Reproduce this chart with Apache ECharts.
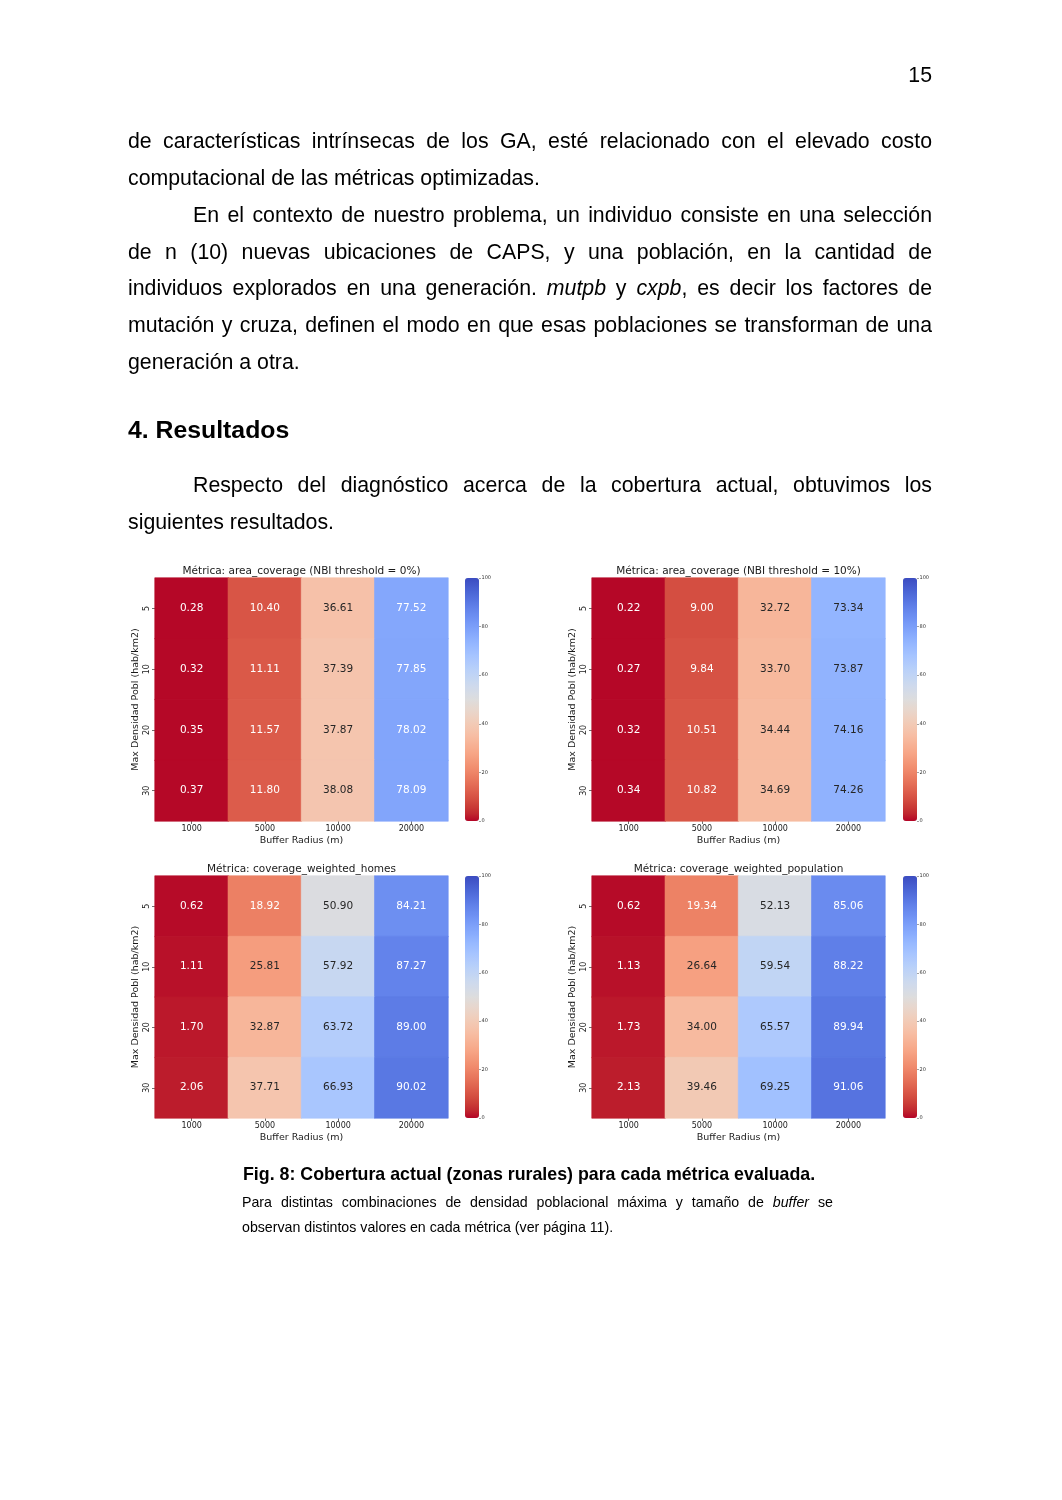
<!DOCTYPE html>
<html>
<head>
<meta charset="utf-8">
<title>Cobertura actual</title>
<script src="https://cdn.jsdelivr.net/npm/echarts@6/dist/echarts.min.js"></script>
<style>
  html, body { margin: 0; padding: 0; background: #fff; }
  #page { position: relative; width: 1062px; height: 1500px; overflow: hidden;
          font-family: 'Liberation Sans', Arial, sans-serif; color: #000; }
  #chart { position: absolute; left: 0; top: 0; width: 1062px; height: 1500px; }
  .ln { position: absolute; font-size: 21.3px; line-height: 30px; height: 30px; white-space: nowrap; }
  .j { white-space: normal; text-align: justify; text-align-last: justify; overflow: hidden; }
  .cap { font-size: 14.2px; line-height: 20px; height: 20px; }
</style>
</head>
<body>
<div id="page">
  <div id="chart"></div>

  <!-- texto de la página -->
  <div class="ln" style="left:832px; top:60px; width:100px; text-align:right;">15</div>

  <div class="ln j" style="left:128px; top:126px; width:804px;">de características intrínsecas de los GA, esté relacionado con el elevado costo</div>
  <div class="ln" style="left:128px; top:163px;">computacional de las métricas optimizadas.</div>
  <div class="ln j" style="left:193px; top:200px; width:739px;">En el contexto de nuestro problema, un individuo consiste en una selección</div>
  <div class="ln j" style="left:128px; top:237px; width:804px;">de n (10) nuevas ubicaciones de CAPS, y una población, en la cantidad de</div>
  <div class="ln j" style="left:128px; top:273px; width:804px;">individuos explorados en una generación. <i>mutpb</i> y <i>cxpb</i>, es decir los factores de</div>
  <div class="ln j" style="left:128px; top:310px; width:804px;">mutación y cruza, definen el modo en que esas poblaciones se transforman de una</div>
  <div class="ln" style="left:128px; top:347px;">generación a otra.</div>

  <div class="ln" style="left:128px; top:414px; font-size:24.8px; line-height:32px; height:32px; font-weight:bold;">4. Resultados</div>

  <div class="ln j" style="left:193px; top:470px; width:739px;">Respecto del diagnóstico acerca de la cobertura actual, obtuvimos los</div>
  <div class="ln" style="left:128px; top:507px;">siguientes resultados.</div>

  <div class="ln" style="left:243px; top:1161px; font-size:17.8px; line-height:26px; height:26px; font-weight:bold;">Fig. 8: Cobertura actual (zonas rurales) para cada métrica evaluada.</div>
  <div class="ln j cap" style="left:242px; top:1192px; width:591px;">Para distintas combinaciones de densidad poblacional máxima y tamaño de <i>buffer</i> se</div>
  <div class="ln cap" style="left:242px; top:1217px;">observan distintos valores en cada métrica (ver página 11).</div>
</div>

<script>
// datos de los mapas de calor
const bufferRadius = ['1000', '5000', '10000', '20000'];
const maxDensidad = ['5', '10', '20', '30'];

const areaCoverage0 = [
    [0.28, 10.40, 36.61, 77.52],
    [0.32, 11.11, 37.39, 77.85],
    [0.35, 11.57, 37.87, 78.02],
    [0.37, 11.80, 38.08, 78.09]
];
const areaCoverage10 = [
    [0.22, 9.00, 32.72, 73.34],
    [0.27, 9.84, 33.70, 73.87],
    [0.32, 10.51, 34.44, 74.16],
    [0.34, 10.82, 34.69, 74.26]
];
const coverageHomes = [
    [0.62, 18.92, 50.90, 84.21],
    [1.11, 25.81, 57.92, 87.27],
    [1.70, 32.87, 63.72, 89.00],
    [2.06, 37.71, 66.93, 90.02]
];
const coveragePopulation = [
    [0.62, 19.34, 52.13, 85.06],
    [1.13, 26.64, 59.54, 88.22],
    [1.73, 34.00, 65.57, 89.94],
    [2.13, 39.46, 69.25, 91.06]
];
const colorbarTicks = [0, 20, 40, 60, 80, 100];

const panelTitles = [
    'Métrica: area_coverage (NBI threshold = 0%)',
    'Métrica: area_coverage (NBI threshold = 10%)',
    'Métrica: coverage_weighted_homes',
    'Métrica: coverage_weighted_population'
];
const panelData = [areaCoverage0, areaCoverage10, coverageHomes, coveragePopulation];

// posiciones de cada panel (px de la página)
const panels = [
    { x: 155, y: 578, w: 293, h: 243, cb: 465 },
    { x: 592, y: 578, w: 293, h: 243, cb: 903 },
    { x: 155, y: 876, w: 293, h: 242, cb: 465 },
    { x: 592, y: 876, w: 293, h: 242, cb: 903 }
];

// coolwarm (azul -> rojo), se invierte para 0 = rojo
const coolwarm = [
    [59, 76, 192], [68, 90, 204], [77, 104, 215], [87, 117, 225], [98, 130, 234],
    [108, 142, 241], [119, 154, 247], [130, 165, 251], [141, 176, 254], [152, 185, 255],
    [163, 194, 255], [174, 201, 253], [184, 208, 249], [194, 213, 244], [204, 217, 238],
    [213, 219, 230], [221, 221, 221], [229, 216, 209], [236, 211, 197], [241, 204, 184],
    [245, 196, 173], [247, 187, 160], [247, 177, 148], [247, 166, 135], [244, 154, 123],
    [241, 141, 111], [236, 127, 99], [229, 112, 88], [222, 96, 77], [213, 80, 66],
    [203, 62, 56], [192, 40, 47], [180, 4, 38]
];
const coolwarmR = coolwarm.slice().reverse();
const cmap = coolwarmR.map(c => `rgb(${c[0]},${c[1]},${c[2]})`);

function colorAt(v) {
    const t = Math.max(0, Math.min(1, v / 100)) * (coolwarmR.length - 1);
    const i = Math.min(Math.floor(t), coolwarmR.length - 2);
    const f = t - i;
    return coolwarmR[i].map((c, k) => c + (coolwarmR[i + 1][k] - c) * f);
}

// mismo criterio que seaborn para el color del texto
function textColor(v) {
    const lin = colorAt(v).map(c => {
        c = c / 255;
        return c <= 0.03928 ? c / 12.92 : Math.pow((c + 0.055) / 1.055, 2.4);
    });
    const lum = 0.2126 * lin[0] + 0.7152 * lin[1] + 0.0722 * lin[2];
    return lum < 0.408 ? '#ffffff' : '#262626';
}

function cells(matrix) {
    const out = [];
    matrix.forEach((row, yi) => {
        row.forEach((v, xi) => {
            const c = colorAt(v).map(Math.round);
            out.push({
                value: [xi, yi, v],
                label: { color: textColor(v) },
                // borde del mismo color para que no se vean costuras
                itemStyle: { borderColor: `rgb(${c[0]},${c[1]},${c[2]})`, borderWidth: 0.6 }
            });
        });
    });
    return out;
}

const font = 'DejaVu Sans';
const ink = '#1a1a1a';

const grids = [];
const xAxes = [];
const yAxes = [];
const visualMaps = [];
const series = [];
const titles = [];

panels.forEach((p, i) => {
    grids.push({ left: p.x, top: p.y, width: p.w, height: p.h, containLabel: false });
    xAxes.push({
        type: 'category', gridIndex: i, data: bufferRadius,
        name: 'Buffer Radius (m)', nameLocation: 'middle', nameGap: 15,
        nameTextStyle: { fontFamily: font, fontSize: 9.5, color: ink },
        axisLine: { show: false },
        axisTick: { show: true, alignWithLabel: true, length: 3, lineStyle: { color: '#333', width: 0.7 } },
        axisLabel: { fontFamily: font, fontSize: 8, color: ink, margin: 4 },
        splitLine: { show: false }
    });
    yAxes.push({
        type: 'category', gridIndex: i, data: maxDensidad, inverse: true,
        name: 'Max Densidad Pobl (hab/km2)', nameLocation: 'middle', nameGap: 14,
        nameTextStyle: { fontFamily: font, fontSize: 9.5, color: ink },
        axisLine: { show: false },
        axisTick: { show: true, alignWithLabel: true, length: 3, lineStyle: { color: '#333', width: 0.7 } },
        axisLabel: { fontFamily: font, fontSize: 8, color: ink, rotate: 90, margin: 4 },
        splitLine: { show: false }
    });
    visualMaps.push({
        type: 'continuous', seriesIndex: i, min: 0, max: 100,
        calculable: false, show: true, left: p.cb, top: p.y,
        itemWidth: 14, itemHeight: p.h, padding: 0,
        inRange: { color: cmap }
    });
    series.push({
        type: 'heatmap', xAxisIndex: i, yAxisIndex: i,
        data: cells(panelData[i]),
        label: {
            show: true, fontFamily: font, fontSize: 10.5,
            formatter: prm => prm.value[2].toFixed(2)
        },
        emphasis: { disabled: true }
    });
    titles.push({
        text: panelTitles[i], left: p.x + p.w / 2, top: p.y - 12, textAlign: 'center', padding: 0,
        textStyle: { fontFamily: font, fontSize: 10.5, fontWeight: 'normal', color: ink }
    });
});

// ejes de las barras de color
panels.forEach((p, i) => {
    const gi = panels.length + i;
    grids.push({ left: p.cb, top: p.y, width: 14, height: p.h });
    xAxes.push({ type: 'category', gridIndex: gi, data: [''], show: false });
    yAxes.push({
        type: 'value', gridIndex: gi, position: 'right',
        min: colorbarTicks[0], max: colorbarTicks[colorbarTicks.length - 1],
        interval: colorbarTicks[1] - colorbarTicks[0],
        axisLine: { show: false },
        axisTick: { show: true, length: 2, lineStyle: { color: '#444', width: 0.5 } },
        axisLabel: { fontFamily: font, fontSize: 5, color: '#333', margin: 2.5 },
        splitLine: { show: false }
    });
});

const chart = echarts.init(document.getElementById('chart'), null, { renderer: 'canvas' });
chart.setOption({
    animation: false,
    backgroundColor: 'transparent',
    title: titles,
    grid: grids,
    xAxis: xAxes,
    yAxis: yAxes,
    visualMap: visualMaps,
    series: series
});
</script>
</body>
</html>
